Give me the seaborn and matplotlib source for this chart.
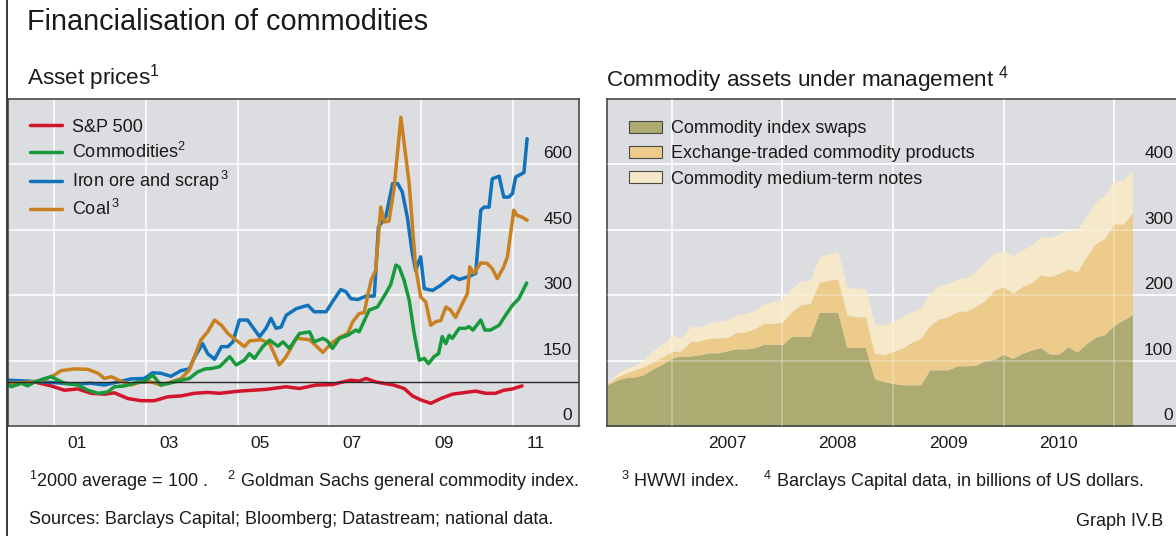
import matplotlib
matplotlib.use("Agg")
import matplotlib.pyplot as plt
from matplotlib import transforms
from matplotlib.lines import Line2D
from matplotlib.patches import Patch
import numpy as np
import pandas as pd
import seaborn as sns

# --- left panel: asset prices, 2000 average = 100 (x in decimal years) ---
sp_years = [2000.00, 2000.58, 2000.94, 2001.23, 2001.52, 2001.81, 2002.10, 2002.32, 2002.61, 2002.90,
            2003.19, 2003.48, 2003.77, 2004.06, 2004.35, 2004.61, 2005.04, 2005.62, 2006.06, 2006.35,
            2006.71, 2007.07, 2007.29, 2007.47, 2007.65, 2007.80, 2008.01, 2008.23, 2008.40, 2008.63,
            2008.81, 2008.99, 2009.21, 2009.43, 2009.68, 2009.97, 2010.19, 2010.41, 2010.62, 2010.80,
            2010.99, 2011.20]
sp_vals = [100, 101, 92, 82, 85, 75, 73, 76, 63, 58,
           58, 67, 69, 75, 77, 75, 80, 84, 90, 86,
           94, 95, 101, 105, 103, 109, 101, 97, 94, 86,
           69, 60, 52, 63, 73, 77, 80, 75, 75, 82,
           85, 92]

comm_years = [2000.00, 2000.07, 2000.29, 2000.43, 2000.58, 2000.80, 2000.94, 2001.23, 2001.52, 2001.74,
              2001.96, 2002.17, 2002.32, 2002.54, 2002.83, 2002.97, 2003.15, 2003.33, 2003.55, 2003.77,
              2003.95, 2004.13, 2004.30, 2004.43, 2004.61, 2004.83, 2004.97, 2005.15, 2005.26, 2005.37,
              2005.55, 2005.70, 2005.88, 2005.99, 2006.13, 2006.35, 2006.57, 2006.67, 2006.86, 2006.96,
              2007.07, 2007.22, 2007.40, 2007.58, 2007.65, 2007.87, 2008.05, 2008.23, 2008.34, 2008.45,
              2008.52, 2008.63, 2008.74, 2008.85, 2008.96, 2009.07, 2009.16, 2009.28, 2009.38, 2009.46,
              2009.54, 2009.61, 2009.68, 2009.83, 2009.97, 2010.04, 2010.13, 2010.30, 2010.39, 2010.51,
              2010.70, 2010.84, 2010.99, 2011.13, 2011.30]
comm_vals = [95, 90, 98, 92, 101, 109, 113, 98, 94, 82,
             75, 78, 90, 92, 101, 101, 117, 94, 99, 105,
             109, 124, 131, 132, 136, 159, 140, 151, 166, 155,
             182, 197, 183, 193, 178, 212, 216, 193, 201, 195,
             178, 201, 208, 220, 216, 266, 273, 304, 325, 369,
             365, 334, 289, 212, 151, 155, 143, 159, 166, 205,
             189, 208, 201, 224, 224, 228, 220, 243, 220, 220,
             231, 254, 277, 292, 328]

iron_years = [2000.00, 2000.43, 2000.72, 2001.09, 2001.45, 2001.81, 2002.10, 2002.39, 2002.68, 2002.97,
              2003.15, 2003.33, 2003.55, 2003.77, 2003.95, 2004.06, 2004.24, 2004.35, 2004.50, 2004.65,
              2004.79, 2004.90, 2005.04, 2005.22, 2005.33, 2005.48, 2005.62, 2005.73, 2005.84, 2005.95,
              2006.06, 2006.28, 2006.53, 2006.67, 2006.93, 2007.07, 2007.25, 2007.36, 2007.47, 2007.62,
              2007.80, 2007.98, 2008.07, 2008.23, 2008.38, 2008.49, 2008.59, 2008.70, 2008.81, 2008.88,
              2008.99, 2009.07, 2009.25, 2009.43, 2009.68, 2009.83, 2010.04, 2010.19, 2010.30, 2010.37,
              2010.48, 2010.55, 2010.70, 2010.80, 2010.91, 2010.99, 2011.06, 2011.20, 2011.24, 2011.31]
iron_vals = [105, 103, 101, 99, 96, 98, 94, 101, 108, 109,
             122, 121, 114, 127, 131, 157, 189, 166, 153, 182,
             182, 193, 243, 243, 227, 205, 224, 247, 224, 227,
             254, 269, 277, 262, 262, 285, 313, 308, 292, 290,
             298, 298, 456, 480, 556, 556, 537, 479, 395, 357,
             388, 315, 311, 323, 344, 336, 343, 350, 495, 502,
             502, 567, 573, 525, 525, 533, 571, 579, 581, 659]

coal_years = [2000.00, 2000.40, 2000.72, 2001.01, 2001.16, 2001.45, 2001.74, 2001.96, 2002.10, 2002.25,
              2002.46, 2002.68, 2002.90, 2003.12, 2003.33, 2003.55, 2003.77, 2003.95, 2004.20, 2004.35,
              2004.50, 2004.65, 2004.79, 2004.97, 2005.15, 2005.26, 2005.51, 2005.70, 2005.91, 2006.06,
              2006.28, 2006.57, 2006.86, 2007.04, 2007.22, 2007.40, 2007.51, 2007.65, 2007.76, 2007.83,
              2007.91, 2008.01, 2008.12, 2008.20, 2008.30, 2008.41, 2008.56, 2008.74, 2008.88, 2008.99,
              2009.10, 2009.21, 2009.32, 2009.43, 2009.54, 2009.64, 2009.75, 2009.90, 2010.01, 2010.06,
              2010.15, 2010.30, 2010.44, 2010.55, 2010.66, 2010.80, 2010.88, 2011.02, 2011.09, 2011.20,
              2011.31]
coal_vals = [98, 100, 103, 117, 127, 131, 130, 121, 109, 113,
             103, 94, 101, 101, 94, 101, 109, 128, 197, 216,
             243, 231, 212, 197, 182, 195, 198, 189, 140, 159,
             201, 198, 169, 189, 203, 212, 239, 258, 260, 296,
             334, 357, 502, 468, 470, 544, 708, 556, 365, 296,
             285, 231, 239, 242, 273, 266, 249, 281, 304, 365,
             350, 374, 373, 361, 338, 365, 388, 495, 483, 479,
             472]

# --- right panel: commodity AUM, USD bn, monthly Jun 2006 - Mar 2011 ---
aum_start, aum_end = "2006-06-01", "2011-03-01"
aum_swaps = [63, 70, 74, 75, 79, 88, 95, 104, 107, 107,
             109, 112, 112, 115, 118, 118, 120, 125, 125, 125,
             137, 137, 137, 174, 174, 174, 120, 120, 120, 72,
             68, 65, 63, 63, 63, 86, 86, 86, 92, 92,
             93, 100, 102, 110, 103, 111, 116, 120, 110, 110,
             121, 113, 126, 136, 140, 154, 162, 170]
aum_etp = [2, 5, 7, 11, 12, 10, 11, 10, 8, 22,
           21, 22, 23, 20, 25, 26, 29, 32, 32, 34,
           38, 49, 50, 46, 49, 51, 50, 47, 47, 39,
           41, 49, 56, 65, 71, 68, 78, 81, 83, 84,
           90, 92, 106, 103, 100, 102, 103, 111, 118, 123,
           119, 123, 133, 143, 147, 155, 147, 156]
aum_mtn = [1, 5, 7, 7, 11, 18, 20, 26, 19, 23,
           22, 23, 25, 27, 27, 28, 28, 30, 33, 36,
           35, 36, 36, 39, 40, 42, 43, 43, 43, 46,
           46, 46, 48, 47, 46, 49, 51, 51, 50, 51,
           53, 59, 56, 55, 57, 56, 57, 58, 60, 60,
           59, 64, 62, 64, 66, 66, 67, 66]

left_ticks = [0, 150, 300, 450, 600]
right_ticks = [0, 100, 200, 300, 400]
left_xlabels = ["01", "03", "05", "07", "09", "11"]
right_xlabels = ["2007", "2008", "2009", "2010"]

line_labels = ["S&P 500", "Commodities$^2$", r"Iron ore and scrap$^{\,3}$", r"Coal$^{\,3}$"]
area_labels = ["Commodity index swaps", "Exchange-traded commodity products",
               "Commodity medium-term notes"]

RED, GREEN, BLUE, COAL = "#d2152b", "#169a3b", "#1173bb", "#c9811f"
SWAP_C, ETP_C, MTN_C = "#adaa72", "#eccb8b", "#f6e9c9"
BG = "#dcdde0"
DARK = "#3a3a3a"

sns.set_style("white")
plt.rcParams["font.family"] = ["Liberation Sans", "DejaVu Sans"]
plt.rcParams["mathtext.fontset"] = "custom"
plt.rcParams["mathtext.rm"] = "Liberation Sans"
plt.rcParams["mathtext.default"] = "regular"
plt.rcParams["text.color"] = "#1a1a1a"

W, H = 1176, 536
fig = plt.figure(figsize=(W / 100, H / 100), dpi=100)


def box(x0, x1, y0=99, y1=426):
    return [x0 / W, 1 - y1 / H, (x1 - x0) / W, (y1 - y0) / H]


def style_panel(ax):
    ax.set_facecolor(BG)
    for sp in ax.spines.values():
        sp.set_color(DARK)
        sp.set_linewidth(1.1)
    ax.tick_params(axis="y", which="both", length=0, labelleft=False, labelright=False)
    ax.tick_params(axis="x", which="both", direction="in", color=DARK, width=0.9,
                   labelbottom=False)
    ax.grid(True, which="major", color="white", lw=1.1)
    ax.set_axisbelow(True)


def right_labels(ax, ticks):
    tr = transforms.offset_copy(ax.get_yaxis_transform(), fig=fig, y=6, units="dots")
    for t in ticks:
        ax.text(0.988, t, str(t), transform=tr, ha="right", va="baseline", fontsize=12.5)


def bottom_labels(ax, pos, labels):
    tr = transforms.offset_copy(ax.get_xaxis_transform(), fig=fig, y=-18, units="dots")
    for p, lab in zip(pos, labels):
        ax.text(p, 0, lab, transform=tr, ha="center", va="center", fontsize=12.5)


# ---------- left panel ----------
ax1 = fig.add_axes(box(8, 579))
style_panel(ax1)
for yrs, vals, col in [(sp_years, sp_vals, RED), (iron_years, iron_vals, BLUE),
                       (coal_years, coal_vals, COAL), (comm_years, comm_vals, GREEN)]:
    sns.lineplot(x=yrs, y=vals, ax=ax1, color=col, lw=2.5, estimator=None,
                 sort=False, legend=False)
ax1.axhline(100, color="#2a2a2a", lw=1.0, zorder=6)
ax1.set_xlim(2000, 2012.44)
ax1.set_ylim(0, 750)
ax1.set_yticks(left_ticks)
ax1.set_xticks(np.arange(2001, 2012, 2))
ax1.set_xticks(np.arange(2002, 2011, 2), minor=True)
ax1.tick_params(axis="x", which="both", length=10)
right_labels(ax1, left_ticks)
bottom_labels(ax1, [int("20" + s) + 0.5 for s in left_xlabels], left_xlabels)
handles = [Line2D([], [], color=c, lw=2.5) for c in (RED, GREEN, BLUE, COAL)]
ax1.legend(handles, line_labels, loc="upper left", bbox_to_anchor=(0.0385, 0.94),
           frameon=False, fontsize=13, handlelength=1.8, handletextpad=0.5,
           labelspacing=0.36, borderpad=0, borderaxespad=0)
ax1.set_xlabel("")
ax1.set_ylabel("")

# ---------- right panel ----------
ax2 = fig.add_axes(box(607, 1180))
style_panel(ax2)
ax2.spines["right"].set_visible(False)
months = pd.date_range(aum_start, aum_end, freq="MS")
aum_x = months.year + (months.month - 1) / 12
ax2.stackplot(aum_x, aum_swaps, aum_etp, aum_mtn, colors=[SWAP_C, ETP_C, MTN_C], lw=0)
ax2.set_xlim(2006.412, 2011.597)
ax2.set_ylim(0, 500)
ax2.set_yticks(right_ticks)
ax2.set_xticks(np.arange(2007, 2012))
ax2.set_xticks([q for q in np.arange(2006.5, 2011, 0.25) if q % 1], minor=True)
ax2.tick_params(axis="x", which="major", length=20)
ax2.tick_params(axis="x", which="minor", length=10)
# faint gridlines showing through the filled areas
for t in right_ticks[1:]:
    ax2.axhline(t, color="white", lw=1.1, alpha=0.35, zorder=3)
for t in np.arange(2007, 2012):
    ax2.axvline(t, color="white", lw=1.1, alpha=0.35, zorder=3)
right_labels(ax2, right_ticks)
bottom_labels(ax2, [int(s) + 0.5 for s in right_xlabels], right_xlabels)
patches = [Patch(facecolor=c, edgecolor="#4a4a4a", lw=0.8) for c in (SWAP_C, ETP_C, MTN_C)]
ax2.legend(patches, area_labels, loc="upper left", bbox_to_anchor=(0.0384, 0.935),
           frameon=False, fontsize=13, handlelength=1.85, handleheight=0.65,
           handletextpad=0.5, labelspacing=0.45, borderpad=0, borderaxespad=0)

# ---------- titles, notes ----------
fig.text(27 / W, 1 - 22 / H, "Financialisation of commodities", fontsize=20.8, va="center")
fig.text(27 / W, 1 - 78 / H, "Asset prices$^1$", fontsize=16.2, va="center")
fig.text(606 / W, 1 - 80 / H, "Commodity assets under management $^4$", fontsize=16.2,
         va="center")
fig.text(29 / W, 1 - 481 / H,
         "$^1$2000 average = 100 .    $^2$ Goldman Sachs general commodity index.",
         fontsize=13, va="center")
fig.text(621 / W, 1 - 481 / H,
         "$^3$ HWWI index.     $^4$ Barclays Capital data, in billions of US dollars.",
         fontsize=13, va="center")
fig.text(29 / W, 1 - 520 / H,
         "Sources: Barclays Capital; Bloomberg; Datastream; national data.",
         fontsize=13, va="center")
fig.text(1163 / W, 1 - 521 / H, "Graph IV.B", fontsize=13, va="center", ha="right")
fig.add_artist(Line2D([7 / W, 7 / W], [0, 1], transform=fig.transFigure, color=DARK, lw=1.4))

fig.savefig("out.png", dpi=100)
